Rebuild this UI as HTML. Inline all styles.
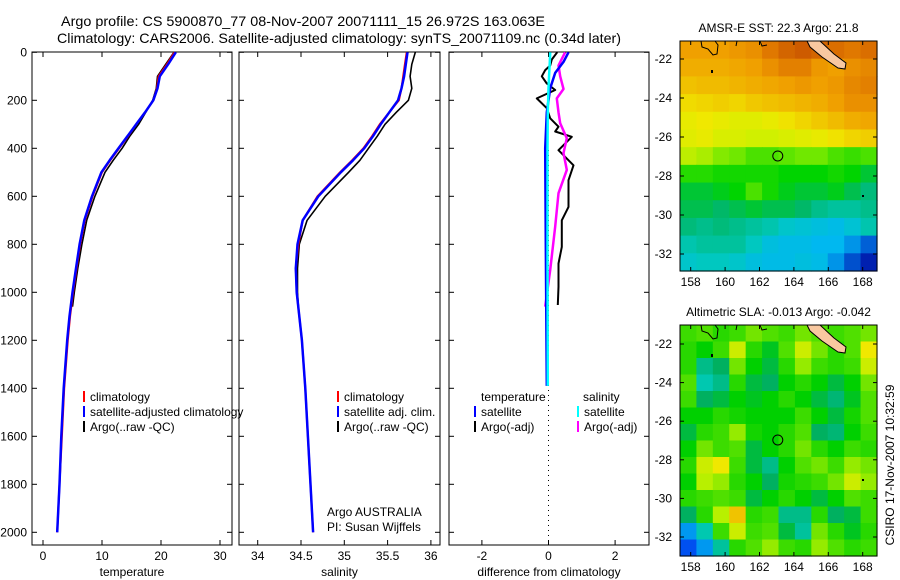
<!DOCTYPE html>
<html><head><meta charset="utf-8"><style>
body{margin:0;background:#fff;}
svg{display:block;font-family:"Liberation Sans",sans-serif;}
</style></head><body>
<svg id="fig" width="900" height="580" viewBox="0 0 900 580">
<rect width="900" height="580" fill="#fff"/>
<text x="61" y="26" font-size="14" textLength="484" lengthAdjust="spacingAndGlyphs">Argo profile: CS 5900870_77 08-Nov-2007 20071111_15 26.972S 163.063E</text>
<text x="57" y="43" font-size="14" textLength="564" lengthAdjust="spacingAndGlyphs">Climatology: CARS2006. Satellite-adjusted climatology: synTS_20071109.nc (0.34d later)</text>
<g id="panels"></g>
<g id="maps"></g>
<text transform="translate(894,465) rotate(-90)" font-size="12" text-anchor="middle">CSIRO 17-Nov-2007 10:32:59</text>
</svg>
<script>
// ---------- data ----------
const depths = [0,50,100,150,200,250,300,350,400,450,500,600,700,800,900,1000,1100,1200,1400,1600,1800,2000];
const tempClim = [22.3,21,19.6,19.3,18.7,17.3,15.8,14.4,12.9,11.4,10,8.4,7.1,6.3,5.7,5.1,4.6,4.2,3.6,3.2,2.8,2.4];
const tempSat = [22.5,21.2,19.8,19.4,18.7,17.3,15.8,14.3,12.8,11.3,9.9,8.3,7.0,6.2,5.6,5.0,4.5,4.1,3.5,3.1,2.8,2.4];
const argoDepths = [0,50,100,150,200,250,300,350,400,450,500,600,700,800,900,1000,1060];
const tempArgo = [22.2,20.8,19.4,19.2,18.6,17.4,16.2,14.7,13.4,11.9,10.5,8.8,7.4,6.6,5.9,5.3,5.0];
const salClim = [35.72,35.70,35.68,35.66,35.63,35.52,35.41,35.32,35.22,35.09,34.95,34.69,34.52,34.47,34.44,34.45,34.48,34.51,34.55,34.58,34.61,34.64];
const salSat = [35.73,35.71,35.69,35.66,35.62,35.52,35.42,35.33,35.23,35.10,34.96,34.70,34.52,34.46,34.44,34.45,34.48,34.51,34.55,34.58,34.61,34.64];
const salArgo = [35.82,35.78,35.76,35.78,35.74,35.6,35.47,35.38,35.28,35.18,35.05,34.78,34.57,34.48,34.46,34.46,34.47];
const tDiffDepth = [0,30,55,74,100,130,157,192,233,275,310,330,352,408,471,533,644,700,811,880,977,1053];
const tDiffArgo = [0.26,0.1,0.05,-0.1,-0.2,-0.05,0.2,-0.35,-0.05,0.05,0.3,0.2,0.7,0.3,0.75,0.6,0.6,0.4,0.4,0.3,0.3,0.28];
const sDiffDepth = [0,55,100,153,192,250,296,358,420,490,587,726,907,1060];
const sDiffArgo = [0.5,0.3,0.35,0.45,0.25,0.3,0.35,0.55,0.45,0.55,0.3,0.2,0.05,-0.1];
const satDepth = [0,40,86,150,250,400,800,1390];
const tSatDiff = [0.6,0.45,0.2,0.05,-0.05,-0.1,-0.08,-0.05];
const sSatDiff = [0.05,0.04,0.02,0.0,-0.02,-0.03,-0.03,-0.02];
const depthTicks = [0,200,400,600,800,1000,1200,1400,1600,1800,2000];
const tempTicks = [0,10,20,30];
const salTicks = [34,34.5,35,35.5,36];
const diffTicks = [-2,0,2];
const sstGrid = [
[23.8,23.8,23.8,23.9,24,24.3,24.5,24.6,24.5,24.4,24.3,24.4],
[23.6,23.6,23.6,23.7,23.8,24,24.2,24.2,23.9,23.8,24,24.1],
[23.3,23.4,23.4,23.5,23.6,23.7,23.8,23.9,23.8,23.9,24.1,24.2],
[22.9,23,23.1,23,23.2,23.3,23.4,23.5,23.6,23.8,24,24],
[22.6,22.7,22.6,22.5,22.5,22.6,22.8,23.0,23.2,23.4,23.6,23.7],
[22.5,22.6,22.4,22.4,22.3,22.3,22.4,22.5,22.6,22.8,23,23.1],
[22.2,22.1,21.9,21.8,21.6,21.6,21.7,21.8,21.8,21.6,21.5,21.6],
[21.4,21.4,21.3,21.3,21.3,21.3,21.2,21.2,21.2,21.3,21.2,21.0],
[21.0,21.0,21.1,21.2,21.6,21.3,21.1,21.0,21.0,21.1,20.9,20.7],
[20.9,20.9,20.8,20.9,21.0,20.9,20.9,20.8,20.6,20.5,20.5,20.6],
[20.7,20.6,20.7,20.6,20.5,20.4,20.2,20.1,20.0,19.9,20.1,20.4],
[20.4,20.5,20.5,20.5,20.3,20.0,19.9,19.9,19.8,19.8,19.6,19.3],
[20.2,20.3,20.3,20.2,20.0,19.9,19.9,20.0,19.9,19.6,19.2,18.9]];
const slaGrid = [
[0.03,0.04,0.02,0.03,0.05,0.04,0.03,0.05,0.04,0.03,0.04,0.05],
[0.02,0.0,0.03,0.08,0.02,-0.01,0.04,0.08,0.05,0.02,0.04,0.1],
[0.02,-0.05,-0.03,0.05,0.0,-0.02,0.02,0.06,0.03,0.02,0.03,0.08],
[0.04,-0.07,-0.05,0.02,-0.02,-0.03,0.0,0.02,0.0,-0.02,0.0,0.05],
[0.03,-0.03,-0.02,0.0,-0.01,0.0,0.02,0.0,-0.02,-0.04,-0.01,0.04],
[0.0,0.0,0.02,0.01,0.0,0.0,0.0,0.03,0.0,-0.02,0.01,0.04],
[-0.02,0.02,0.03,0.06,0.01,0.0,0.02,0.04,-0.03,-0.04,0.0,0.03],
[0.0,0.05,0.03,0.04,-0.02,0.0,0.02,0.05,0.02,0.0,0.03,0.02],
[0.02,0.08,0.1,0.03,-0.02,-0.05,0.0,0.04,0.05,0.03,0.06,0.05],
[0.0,0.07,0.06,0.02,0.0,-0.03,0.01,0.02,0.03,0.05,0.08,0.06],
[0.02,0.03,0.04,0.03,-0.02,0.0,0.02,0.0,-0.02,0.0,0.04,0.03],
[-0.03,0.02,0.07,0.12,0.02,0.03,-0.05,-0.05,0.02,-0.03,-0.02,0.03],
[-0.12,-0.07,0.03,0.08,0.03,0.04,-0.02,-0.06,0.05,0.02,-0.01,0.02],
[-0.15,-0.12,-0.06,0.02,0.04,0.06,0.03,0.02,0.06,0.04,0.02,0.03]];
const lonTicks = [158,160,162,164,166,168];
const latTicks = [-22,-24,-26,-28,-30,-32];
const argoLon = 163.063, argoLat = -26.972;

// ---------- helpers ----------
const NS = "http://www.w3.org/2000/svg";
function mk(tag, attrs, parent){const e=document.createElementNS(NS,tag);for(const k in attrs)e.setAttribute(k,attrs[k]);parent.appendChild(e);return e;}
const yD = d => 52.3 + d*0.24;
const panelsG = document.getElementById('panels');

function panel(name, x0, x1, xScale, ticks, label, yLabels){
  const g = mk('g',{},panelsG);
  
  
  const r = mk('rect',{x:x0,y:52,width:x1-x0,height:493,fill:'none',stroke:'#000','stroke-width':1},g);
  
  
  ticks.forEach(t=>{
    const x = xScale(t);
    mk('line',{x1:x,x2:x,y1:52,y2:57,stroke:'#000'},g);
    mk('line',{x1:x,x2:x,y1:545,y2:540,stroke:'#000'},g);
    const tl = mk('text',{x:x,y:560,'font-size':12,'text-anchor':'middle'},g);
    tl.textContent = t;
    
    
  });
  depthTicks.forEach(d=>{
    const y = yD(d);
    mk('line',{x1:x0,x2:x0+5,y1:y,y2:y,stroke:'#000'},g);
    mk('line',{x1:x1,x2:x1-5,y1:y,y2:y,stroke:'#000'},g);
    if(yLabels){
      const tl = mk('text',{x:27,y:y+4,'font-size':12,'text-anchor':'end'},g);
      tl.textContent = d;
      
      
    }
  });
  const xl = mk('text',{x:(x0+x1)/2,y:576,'font-size':12,'text-anchor':'middle'},g);
  xl.textContent = label;
  
  
  return g;
}
function line(g, xs, ds, xScale, color, w, name){
  const pts = xs.map((v,i)=>xScale(v).toFixed(1)+','+yD(ds[i]).toFixed(1)).join(' ');
  const p = mk('polyline',{points:pts,fill:'none',stroke:color,'stroke-width':w,'stroke-linejoin':'round'},g);
  
  
}
function legend(g, x, y, items){
  items.forEach((it,i)=>{
    const yy = y + i*15;
    if(it[0]) mk('rect',{x:x,y:yy-10,width:2,height:11,fill:it[0]},g);
    const t = mk('text',{x:x+(it[0]?7:0),y:yy,'font-size':12},g);
    t.textContent = it[1];
    
    
  });
}

// Temperature panel
const xT = v => 43 + v*5.9;
const gT = panel('temperature-panel',32,232,xT,tempTicks,'temperature',true);
line(gT, tempArgo, argoDepths, xT, '#000', 1.6, 'temp-argo-line');
line(gT, tempClim, depths, xT, '#f00', 2, 'temp-climatology-line');
line(gT, tempSat, depths, xT, '#00f', 2.5, 'temp-satellite-line');
legend(gT, 83, 401, [['#f00','climatology'],['#00f','satellite-adjusted climatology'],['#000','Argo(..raw -QC)']]);

// Salinity panel
const xS = v => 257.7 + (v-34)*86.6;
const gS = panel('salinity-panel',239,440,xS,salTicks,'salinity',false);
line(gS, salArgo, argoDepths, xS, '#000', 1.6, 'sal-argo-line');
line(gS, salClim, depths, xS, '#f00', 2, 'sal-climatology-line');
line(gS, salSat, depths, xS, '#00f', 2.5, 'sal-satellite-line');
legend(gS, 337, 401, [['#f00','climatology'],['#00f','satellite adj. clim.'],['#000','Argo(..raw -QC)']]);
legend(gS, 327, 516, [[null,'Argo AUSTRALIA'],[null,'PI: Susan Wijffels']]);

// Diff panel
const xDf = v => 548.5 + v*33.3;
const gD = panel('difference-panel',449,649,xDf,diffTicks,'difference from climatology',false);
mk('line',{x1:xDf(0),x2:xDf(0),y1:150,y2:545,stroke:'#000','stroke-dasharray':'1,4'},gD);
line(gD, tDiffArgo, tDiffDepth, xDf, '#000', 2, 'temp-diff-argo-line');
line(gD, sDiffArgo, sDiffDepth, xDf, '#f0f', 2.5, 'sal-diff-argo-line');
line(gD, tSatDiff, satDepth, xDf, '#00f', 2.5, 'temp-diff-satellite-line');
line(gD, sSatDiff, satDepth, xDf, '#0ff', 2.5, 'sal-diff-satellite-line');
mk('rect',{x:478,y:387,width:66,height:13,fill:'#fff'},gD);
legend(gD, 481, 401, [[null,'temperature']]);
legend(gD, 474, 416, [['#00f','satellite'],['#000','Argo(-adj)']]);
legend(gD, 583, 401, [[null,'salinity']]);
legend(gD, 577, 416, [['#0ff','satellite'],['#f0f','Argo(-adj)']]);

// ---------- maps ----------
const sstStops = [[18.9,'#0020b0'],[19.4,'#0070e0'],[19.8,'#00b8f0'],[20.3,'#00c8c0'],[20.8,'#00b868'],[21.2,'#00d400'],[21.8,'#70e800'],[22.3,'#d0f000'],[22.7,'#f0e800'],[23.2,'#f0c800'],[23.8,'#f0a000'],[24.3,'#e07800'],[24.8,'#c04800']];
const slaStops = [[-0.15,'#0050f0'],[-0.11,'#00b0f0'],[-0.07,'#00c8b0'],[-0.03,'#00b060'],[0.0,'#00d000'],[0.04,'#50e000'],[0.07,'#b8f000'],[0.10,'#f0e800'],[0.13,'#f0b000']];
function hex(c){return [1,3,5].map(i=>parseInt(c.substr(i,2),16));}
function cmap(stops,v){
  if(v<=stops[0][0]) return stops[0][1];
  for(let i=1;i<stops.length;i++){
    if(v<=stops[i][0]){
      const t=(v-stops[i-1][0])/(stops[i][0]-stops[i-1][0]);
      const a=hex(stops[i-1][1]),b=hex(stops[i][1]);
      return 'rgb('+a.map((x,k)=>Math.round(x+(b[k]-x)*t)).join(',')+')';
    }
  }
  return stops[stops.length-1][1];
}
const mapsG = document.getElementById('maps');
function drawMap(name, top, bottom, lat22y, lat32y, grid, stops, title){
  const L=680, R=877;
  const g = mk('g',{},mapsG);
  
  
  const lonX = lon => 690.7 + (lon-158)*17.2;
  const latY = lat => lat22y + (-22-lat)*(lat32y-lat22y)/10;
  const rows = grid.length, cols = grid[0].length;
  const cw = (R-L)/cols, ch = (bottom-top)/rows;
  grid.forEach((row,i)=>row.forEach((v,j)=>{
    const c = mk('rect',{x:(L+j*cw).toFixed(2),y:(top+i*ch).toFixed(2),width:(cw+0.6).toFixed(2),height:(ch+0.6).toFixed(2),fill:cmap(stops,v)},g);
    
    
  }));
  const off = top-41;
  const nc = mk('polygon',{points:[[807,41],[820,41],[834,54],[846,63],[845,69],[838,68],[822,57],[810,47]].map(p=>p[0]+','+(p[1]+off)).join(' '),fill:'#f8c8a0',stroke:'#000','stroke-width':1},g);
  
  
  mk('path',{d:`M701 ${41+off} L702 ${47+off} L708 ${49+off} L713 ${55+off} L717 ${54+off} L718 ${45+off} L715 ${41+off}`,fill:'none',stroke:'#000','stroke-width':1},g);
  mk('path',{d:`M737 ${41+off} L736 ${46+off} M760 ${41+off} L762 ${46+off} L767 ${45+off}`,fill:'none',stroke:'#000','stroke-width':1},g);
  mk('rect',{x:711,y:70+off,width:2,height:3,fill:'#000'},g);
  mk('rect',{x:862,y:195+off,width:2,height:2,fill:'#000'},g);
  const frame = mk('rect',{x:L,y:top,width:R-L,height:bottom-top,fill:'none',stroke:'#000'},g);
  
  
  lonTicks.forEach(lon=>{
    const x=lonX(lon);
    mk('line',{x1:x,x2:x,y1:top,y2:top+4,stroke:'#000'},g);
    mk('line',{x1:x,x2:x,y1:bottom,y2:bottom-4,stroke:'#000'},g);
    const t=mk('text',{x:x,y:bottom+15,'font-size':12,'text-anchor':'middle'},g);
    t.textContent=lon;
    
    
  });
  latTicks.forEach(lat=>{
    const y=latY(lat);
    mk('line',{x1:L,x2:L+4,y1:y,y2:y,stroke:'#000'},g);
    mk('line',{x1:R,x2:R-4,y1:y,y2:y,stroke:'#000'},g);
    const t=mk('text',{x:672,y:y+4,'font-size':12,'text-anchor':'end'},g);
    t.textContent='-'+Math.abs(lat);
    
    
  });
  const c = mk('circle',{cx:lonX(argoLon),cy:latY(argoLat),r:5,fill:'none',stroke:'#000','stroke-width':1},g);
  
  
  const tt = mk('text',{x:(L+R)/2,y:top-9,'font-size':12,'text-anchor':'middle'},g);
  tt.textContent = title;
  
  
}
drawMap('sst-map',41,271,59,254,sstGrid,sstStops,'AMSR-E SST: 22.3 Argo: 21.8');
drawMap('sla-map',325,556,344,537,slaGrid,slaStops,'Altimetric SLA: -0.013 Argo: -0.042');
</script>
</body></html>
